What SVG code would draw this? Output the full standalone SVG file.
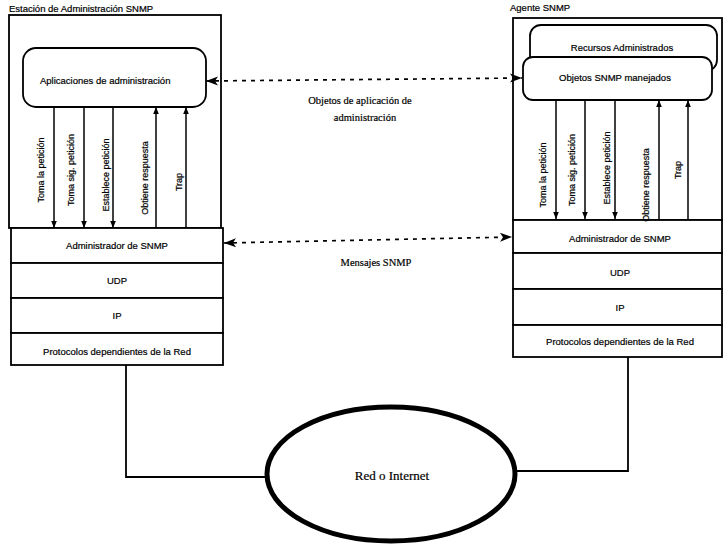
<svg xmlns="http://www.w3.org/2000/svg" width="725" height="545" viewBox="0 0 725 545">
  <style>
    .box { fill: #fff; stroke: #000; stroke-width: 1.8; }
    .ln { fill: none; stroke: #000; stroke-width: 1.8; }
    .arw { fill: none; stroke: #000; stroke-width: 1.5; }
    .dash { fill: none; stroke: #000; stroke-width: 1.7; stroke-dasharray: 4 5; }
    text { stroke: #000; stroke-width: 0.2; }
    .t { font-family: "Liberation Sans", Arial, sans-serif; font-size: 9.5px; fill: #000; }
    .tm { text-anchor: middle; }
    .s { font-family: "Liberation Serif", "Times New Roman", serif; font-size: 10.5px; fill: #000; text-anchor: middle; }
    .v { font-family: "Liberation Sans", Arial, sans-serif; font-size: 9px; fill: #000; text-anchor: middle; }
  </style>
  <defs>
    <marker id="tip" viewBox="0 0 10 10" refX="10" refY="5" markerWidth="7" markerHeight="7" markerUnits="userSpaceOnUse" orient="auto">
      <path d="M0,1 L10,5 L0,9 Z" fill="#000"/>
    </marker>
    <marker id="bigtip" viewBox="0 0 12 10" refX="12" refY="5" markerWidth="14" markerHeight="10" markerUnits="userSpaceOnUse" orient="auto-start-reverse">
      <path d="M0,0.5 L12,5 L0,9.5 L3,5 Z" fill="#000"/>
    </marker>
  </defs>

  <!-- Management station -->
  <g id="estacion">
    <rect class="box" x="9" y="15" width="212" height="213"/>
    <text class="t" x="9" y="12">Estación de Administración SNMP</text>
    <g id="apps">
      <rect class="box" x="23" y="48" width="183" height="59" rx="13"/>
      <text class="t" x="40" y="84">Aplicaciones de administración</text>
    </g>
    <g id="est-stack">
      <rect class="box" x="11" y="228" width="212" height="35"/>
      <text class="t tm" x="117" y="249">Administrador de SNMP</text>
      <rect class="box" x="11" y="263" width="212" height="35"/>
      <text class="t tm" x="117" y="284">UDP</text>
      <rect class="box" x="11" y="298" width="212" height="35"/>
      <text class="t tm" x="117" y="319">IP</text>
      <rect class="box" x="11" y="333" width="212" height="32"/>
      <text class="t tm" x="117" y="355">Protocolos dependientes de la Red</text>
    </g>
    <g id="est-ops">
      <line class="arw" x1="54" y1="107" x2="54" y2="228" marker-end="url(#tip)"/>
      <line class="arw" x1="84" y1="107" x2="84" y2="228" marker-end="url(#tip)"/>
      <line class="arw" x1="113" y1="107" x2="113" y2="228" marker-end="url(#tip)"/>
      <line class="arw" x1="156" y1="228" x2="156" y2="107" marker-end="url(#tip)"/>
      <line class="arw" x1="186" y1="228" x2="186" y2="107" marker-end="url(#tip)"/>
      <text class="v" transform="translate(44,170) rotate(-90)">Toma la petición</text>
      <text class="v" transform="translate(74,170) rotate(-90)">Toma sig.  petición</text>
      <text class="v" transform="translate(109,175) rotate(-90)">Establece petición</text>
      <text class="v" transform="translate(148,178) rotate(-90)">Obtiene respuesta</text>
      <text class="v" transform="translate(182,182) rotate(-90)">Trap</text>
    </g>
  </g>

  <!-- SNMP agent -->
  <g id="agente">
    <rect class="box" x="513" y="18" width="209" height="202"/>
    <text class="t" x="510" y="11">Agente SNMP</text>
    <g id="recursos">
      <rect class="box" x="530" y="25" width="187" height="46" rx="11"/>
      <text class="t tm" x="622" y="51">Recursos Administrados</text>
    </g>
    <g id="objetos">
      <rect class="box" x="523" y="57" width="189" height="43" rx="10"/>
      <text class="t tm" x="615" y="81">Objetos SNMP manejados</text>
    </g>
    <g id="ag-stack">
      <rect class="box" x="513" y="220" width="209" height="33"/>
      <text class="t tm" x="620" y="242">Administrador de SNMP</text>
      <rect class="box" x="513" y="253" width="209" height="36"/>
      <text class="t tm" x="620" y="276">UDP</text>
      <rect class="box" x="513" y="289" width="209" height="36"/>
      <text class="t tm" x="620" y="311">IP</text>
      <rect class="box" x="513" y="325" width="209" height="32"/>
      <text class="t tm" x="620" y="345">Protocolos dependientes de la Red</text>
    </g>
    <g id="ag-ops">
      <line class="arw" x1="556" y1="100" x2="556" y2="219" marker-end="url(#tip)"/>
      <line class="arw" x1="585" y1="100" x2="585" y2="219" marker-end="url(#tip)"/>
      <line class="arw" x1="615" y1="100" x2="615" y2="219" marker-end="url(#tip)"/>
      <line class="arw" x1="659" y1="219" x2="659" y2="100" marker-end="url(#tip)"/>
      <line class="arw" x1="688" y1="219" x2="688" y2="100" marker-end="url(#tip)"/>
      <text class="v" transform="translate(546,175) rotate(-90)">Toma la petición</text>
      <text class="v" transform="translate(575,170) rotate(-90)">Toma sig.  petición</text>
      <text class="v" transform="translate(610,168) rotate(-90)">Establece petición</text>
      <text class="v" transform="translate(649,185) rotate(-90)">Obtiene respuesta</text>
      <text class="v" transform="translate(681,170) rotate(-90)">Trap</text>
    </g>
  </g>

  <!-- Network -->
  <g id="red">
    <ellipse cx="391" cy="474" rx="124" ry="67" fill="#fff" stroke="#000" stroke-width="5"/>
    <text x="392" y="480" font-family="Liberation Serif, 'Times New Roman', serif" font-size="13px" text-anchor="middle">Red o Internet</text>
  </g>

  <!-- Connectors -->
  <g id="connectors">
    <line class="dash" x1="206" y1="81" x2="522" y2="78" marker-start="url(#bigtip)" marker-end="url(#bigtip)"/>
    <text class="s" x="360" y="104">Objetos de aplicación de</text>
    <text class="s" x="365" y="121">administración</text>
    <line class="dash" x1="224" y1="243" x2="512" y2="237" marker-start="url(#bigtip)" marker-end="url(#bigtip)"/>
    <text class="s" x="376" y="266">Mensajes SNMP</text>
    <polyline class="ln" points="126,365 126,477 267,477"/>
    <polyline class="ln" points="628,357 628,471 515,471"/>
  </g>
</svg>
